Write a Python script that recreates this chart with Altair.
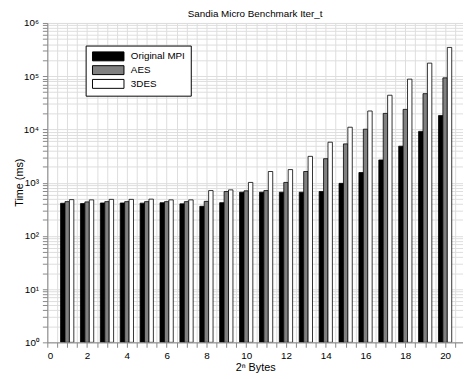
import altair as alt
import pandas as pd

# ---- data ----
sizes = list(range(1, 21))
series_names = ["Original MPI", "AES", "3DES"]
original_mpi = [410, 405, 415, 415, 412, 420, 400, 360, 421, 661,
                661, 661, 661, 681, 970, 1550, 2670, 4840, 9190, 18200]
aes = [440, 435, 440, 440, 440, 440, 440, 445, 681, 702,
       710, 1010, 1620, 2820, 5350, 10100, 20000, 23800, 47000, 93000]
des3 = [480, 475, 485, 485, 490, 475, 475, 710, 732, 1010,
        1620, 1760, 3120, 5750, 11000, 22200, 43900, 88000, 176000, 347000]
bar_colors = ["#000000", "#808080", "#ffffff"]
y_grid_values = [k * 10 ** d for d in range(0, 6) for k in range(1, 10)] + [10 ** 6]
x_grid_values = [i * 0.5 for i in range(0, 42)]

rows = []
for si, (name, vals) in enumerate(zip(series_names, [original_mpi, aes, des3])):
    for n, v in zip(sizes, vals):
        rows.append({"n": n, "series": name, "idx": si, "time": v})
df = pd.DataFrame(rows)

FONT = "Liberation Sans"

sup_expr = ("abs(log(datum.value)/LN10 - round(log(datum.value)/LN10)) < 1e-6 ? "
            "'10' + ['\u2070','\u00b9','\u00b2','\u00b3','\u2074','\u2075','\u2076']"
            "[round(log(datum.value)/LN10)] : ''")

bars = alt.Chart(df).transform_calculate(
    x0="datum.n + (datum.idx - 1.5) * 0.2222",
    x1="datum.n + (datum.idx - 0.5) * 0.2222",
    base="1",
).mark_bar(stroke="black", strokeWidth=0.8, clip=True).encode(
    x=alt.X("x0:Q",
            scale=alt.Scale(domain=[0, 20.9], nice=False, zero=False),
            axis=alt.Axis(values=x_grid_values,
                          labelExpr="datum.value % 2 == 0 ? format(datum.value, 'd') : ''",
                          labelOverlap=False, title="2\u207f Bytes",
                          titlePadding=2, labelPadding=3,
                          titleFontWeight="normal")),
    x2="x1:Q",
    y=alt.Y("time:Q",
            scale=alt.Scale(type="log", domain=[1, 1e6], nice=False),
            axis=alt.Axis(values=y_grid_values, labelExpr=sup_expr,
                          labelOverlap=False, title="Time (ms)",
                          titleX=-23, titleY=162, labelPadding=4,
                          titleFontWeight="normal")),
    y2="base:Q",
    fill=alt.Fill("series:N",
                  scale=alt.Scale(domain=series_names, range=bar_colors),
                  legend=alt.Legend(title=None, orient="none", legendX=39, legendY=23,
                                    symbolType="M-3,-0.85H3V0.85H-3Z",
                                    symbolSize=114, symbolOffset=12,
                                    symbolStrokeColor="black",
                                    symbolStrokeWidth=1, labelFontSize=10,
                                    labelFont=FONT, labelColor="black",
                                    strokeColor="black", fillColor="white",
                                    padding=5, rowPadding=0, labelOffset=17)),
)

chart = bars.properties(
    width=423,
    height=325,
    autosize=alt.AutoSizeParams(type="none"),
    padding={"left": 40, "top": 12, "right": 0, "bottom": 30},
    title=alt.Title("Sandia Micro Benchmark  Iter_t", fontSize=10,
                    fontWeight="normal", font=FONT, color="black",
                    offset=0, dy=1),
).configure_view(
    stroke="black", strokeWidth=1
).configure_axis(
    grid=True, gridColor="#555555", gridDash=[1, 3], gridWidth=1,
    domainColor="black", domainWidth=1, tickSize=0,
    labelFont=FONT, labelFontSize=10, labelColor="black",
    titleFont=FONT, titleFontSize=10, titleFontWeight="normal", titleColor="black",
).configure(background="white")

chart.save("out.html", embed_options={"renderer": "svg", "actions": False})
